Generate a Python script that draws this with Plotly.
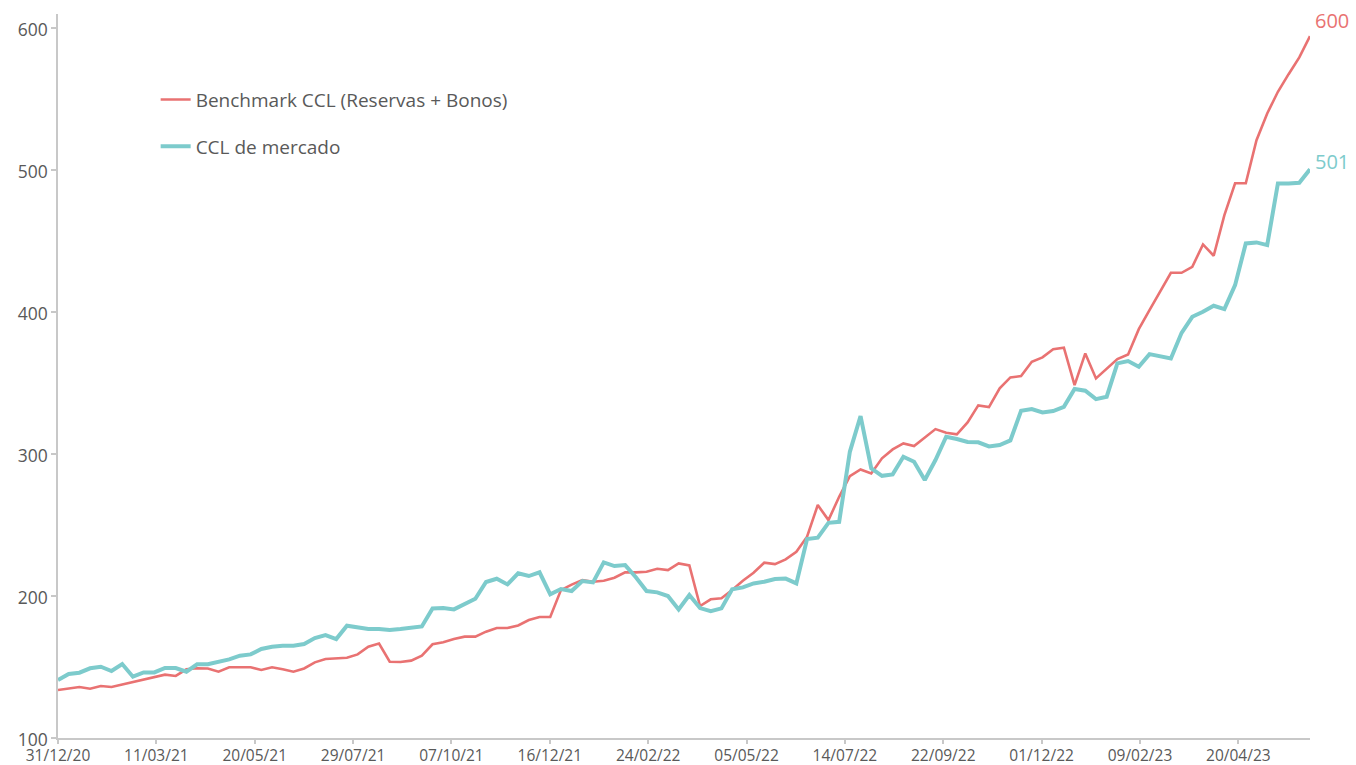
import pandas as pd
import plotly.graph_objects as go

# ---- data ----
start_date = "2020-12-31"
end_date = "2023-06-10"

benchmark_ccl = [
    133.8, 135.0, 135.9, 134.7, 136.6, 135.9, 137.6, 139.4, 141.1, 142.7,
    144.6, 143.7, 148.4, 149.1, 149.0, 146.7, 149.8, 149.8, 149.8, 147.9,
    149.8, 148.4, 146.7, 149.0, 153.3, 155.6, 155.8, 156.5, 158.9, 164.3,
    166.5, 153.7, 153.5, 154.5, 158.0, 166.0, 167.4, 169.7, 171.4, 171.4,
    174.9, 177.5, 177.5, 179.3, 183.1, 185.2, 185.2, 204.2, 208.0, 211.3,
    210.1, 210.8, 212.9, 216.7, 216.7, 217.1, 219.2, 218.3, 223.0, 221.6,
    193.0, 197.7, 198.4, 204.2, 210.8, 216.4, 223.5, 222.5, 225.8, 231.2,
    241.8, 264.1, 253.5, 269.9, 284.5, 289.2, 286.4, 297.0, 303.3, 307.5,
    305.6, 311.5, 317.6, 315.0, 313.9, 322.3, 334.3, 333.1, 346.3, 354.0,
    354.9, 365.0, 368.1, 373.9, 374.9, 348.6, 370.9, 353.3, 360.4, 366.9,
    370.2, 388.0, 401.4, 414.3, 427.7, 427.7, 431.9, 447.7, 439.7, 468.3,
    490.8, 490.8, 521.1, 539.9, 555.2, 567.6, 579.4, 594.4,
]

ccl_mercado = [
    140.8, 145.1, 146.0, 149.1, 150.2, 147.2, 152.1, 143.2, 146.2, 146.2,
    149.3, 149.3, 146.7, 151.9, 151.9, 153.3, 155.4, 158.0, 158.9, 162.7,
    164.3, 165.0, 165.0, 166.2, 170.4, 172.5, 169.7, 179.1, 177.9, 176.8,
    176.8, 176.1, 176.8, 177.7, 178.6, 191.3, 191.6, 190.6, 194.4, 198.1,
    209.9, 212.2, 208.2, 216.0, 214.1, 216.7, 201.2, 204.9, 203.5, 210.6,
    209.6, 223.7, 221.1, 221.8, 213.2, 203.5, 202.6, 200.0, 190.6, 200.7,
    191.5, 189.4, 191.3, 204.7, 206.1, 208.9, 210.1, 212.0, 212.3, 208.9,
    240.1, 241.1, 251.6, 252.3, 301.6, 326.8, 289.9, 284.7, 285.7, 298.1,
    294.6, 281.7, 295.8, 312.2, 310.6, 308.5, 308.3, 305.4, 306.4, 309.6,
    330.5, 331.7, 329.3, 330.3, 333.3, 345.8, 344.6, 338.7, 340.4, 363.9,
    365.5, 361.5, 370.4, 369.0, 367.4, 385.4, 396.7, 400.2, 404.5, 402.1,
    419.0, 448.4, 449.1, 447.2, 490.6, 490.6, 491.1, 500.7,
]

series_names = ["Benchmark CCL (Reservas + Bonos)", "CCL de mercado"]
end_labels = ["600", "501"]

# ---- style ----
RED = "#E97272"
TEAL = "#7DCBCC"
GRAY_TEXT = "#595959"
AXIS = "#C8C8C8"
FONT = "Open Sans"

dates = pd.date_range(start_date, end_date, periods=len(benchmark_ccl))

fig = go.Figure()
fig.add_trace(go.Scatter(
    x=dates, y=benchmark_ccl, mode="lines", name=series_names[0],
    line=dict(color=RED, width=2.6), legendgroup="a",
))
fig.add_trace(go.Scatter(
    x=dates, y=ccl_mercado, mode="lines", name=series_names[1],
    line=dict(color=TEAL, width=4), legendgroup="b",
))

fig.add_annotation(x=dates[-1], y=benchmark_ccl[-1], text=end_labels[0],
                   showarrow=False, xanchor="left", yanchor="middle",
                   xshift=3, yshift=16, font=dict(family=FONT, size=20, color=RED))
fig.add_annotation(x=dates[-1], y=ccl_mercado[-1], text=end_labels[1],
                   showarrow=False, xanchor="left", yanchor="middle",
                   xshift=3, yshift=8, font=dict(family=FONT, size=20, color=TEAL))

fig.update_layout(
    width=1356, height=765,
    margin=dict(l=58, r=46, t=14, b=27, autoexpand=False),
    paper_bgcolor="white", plot_bgcolor="white",
    font=dict(family=FONT, size=16, color=GRAY_TEXT),
    showlegend=True,
    legend=dict(x=0.078, y=0.908, xanchor="left", yanchor="top",
                bgcolor="rgba(0,0,0,0)", tracegroupgap=19,
                font=dict(family=FONT, size=19, color=GRAY_TEXT)),
)
fig.update_xaxes(
    type="date", range=[dates[0], dates[-1]], automargin=False,
    tick0=start_date, dtick=70 * 24 * 3600 * 1000, tickformat="%d/%m/%y",
    showline=True, linecolor=AXIS, linewidth=1.5,
    ticks="outside", ticklen=4, tickcolor=AXIS, tickwidth=1.5,
    ticklabelstandoff=-1,
    showgrid=False, zeroline=False,
    tickfont=dict(family=FONT, size=15.5, color=GRAY_TEXT),
)
fig.update_yaxes(
    range=[100, 610], tick0=100, dtick=100, automargin=False,
    showline=True, linecolor=AXIS, linewidth=1.5,
    ticks="outside", ticklen=5, tickcolor=AXIS, tickwidth=1.5,
    ticklabelshift=2,
    showgrid=False, zeroline=False,
    tickfont=dict(family=FONT, size=17.5, color=GRAY_TEXT),
)

fig.write_html("out.html", config={"displayModeBar": False},
               post_script="document.body.style.margin='0';document.body.style.overflow='hidden';")
